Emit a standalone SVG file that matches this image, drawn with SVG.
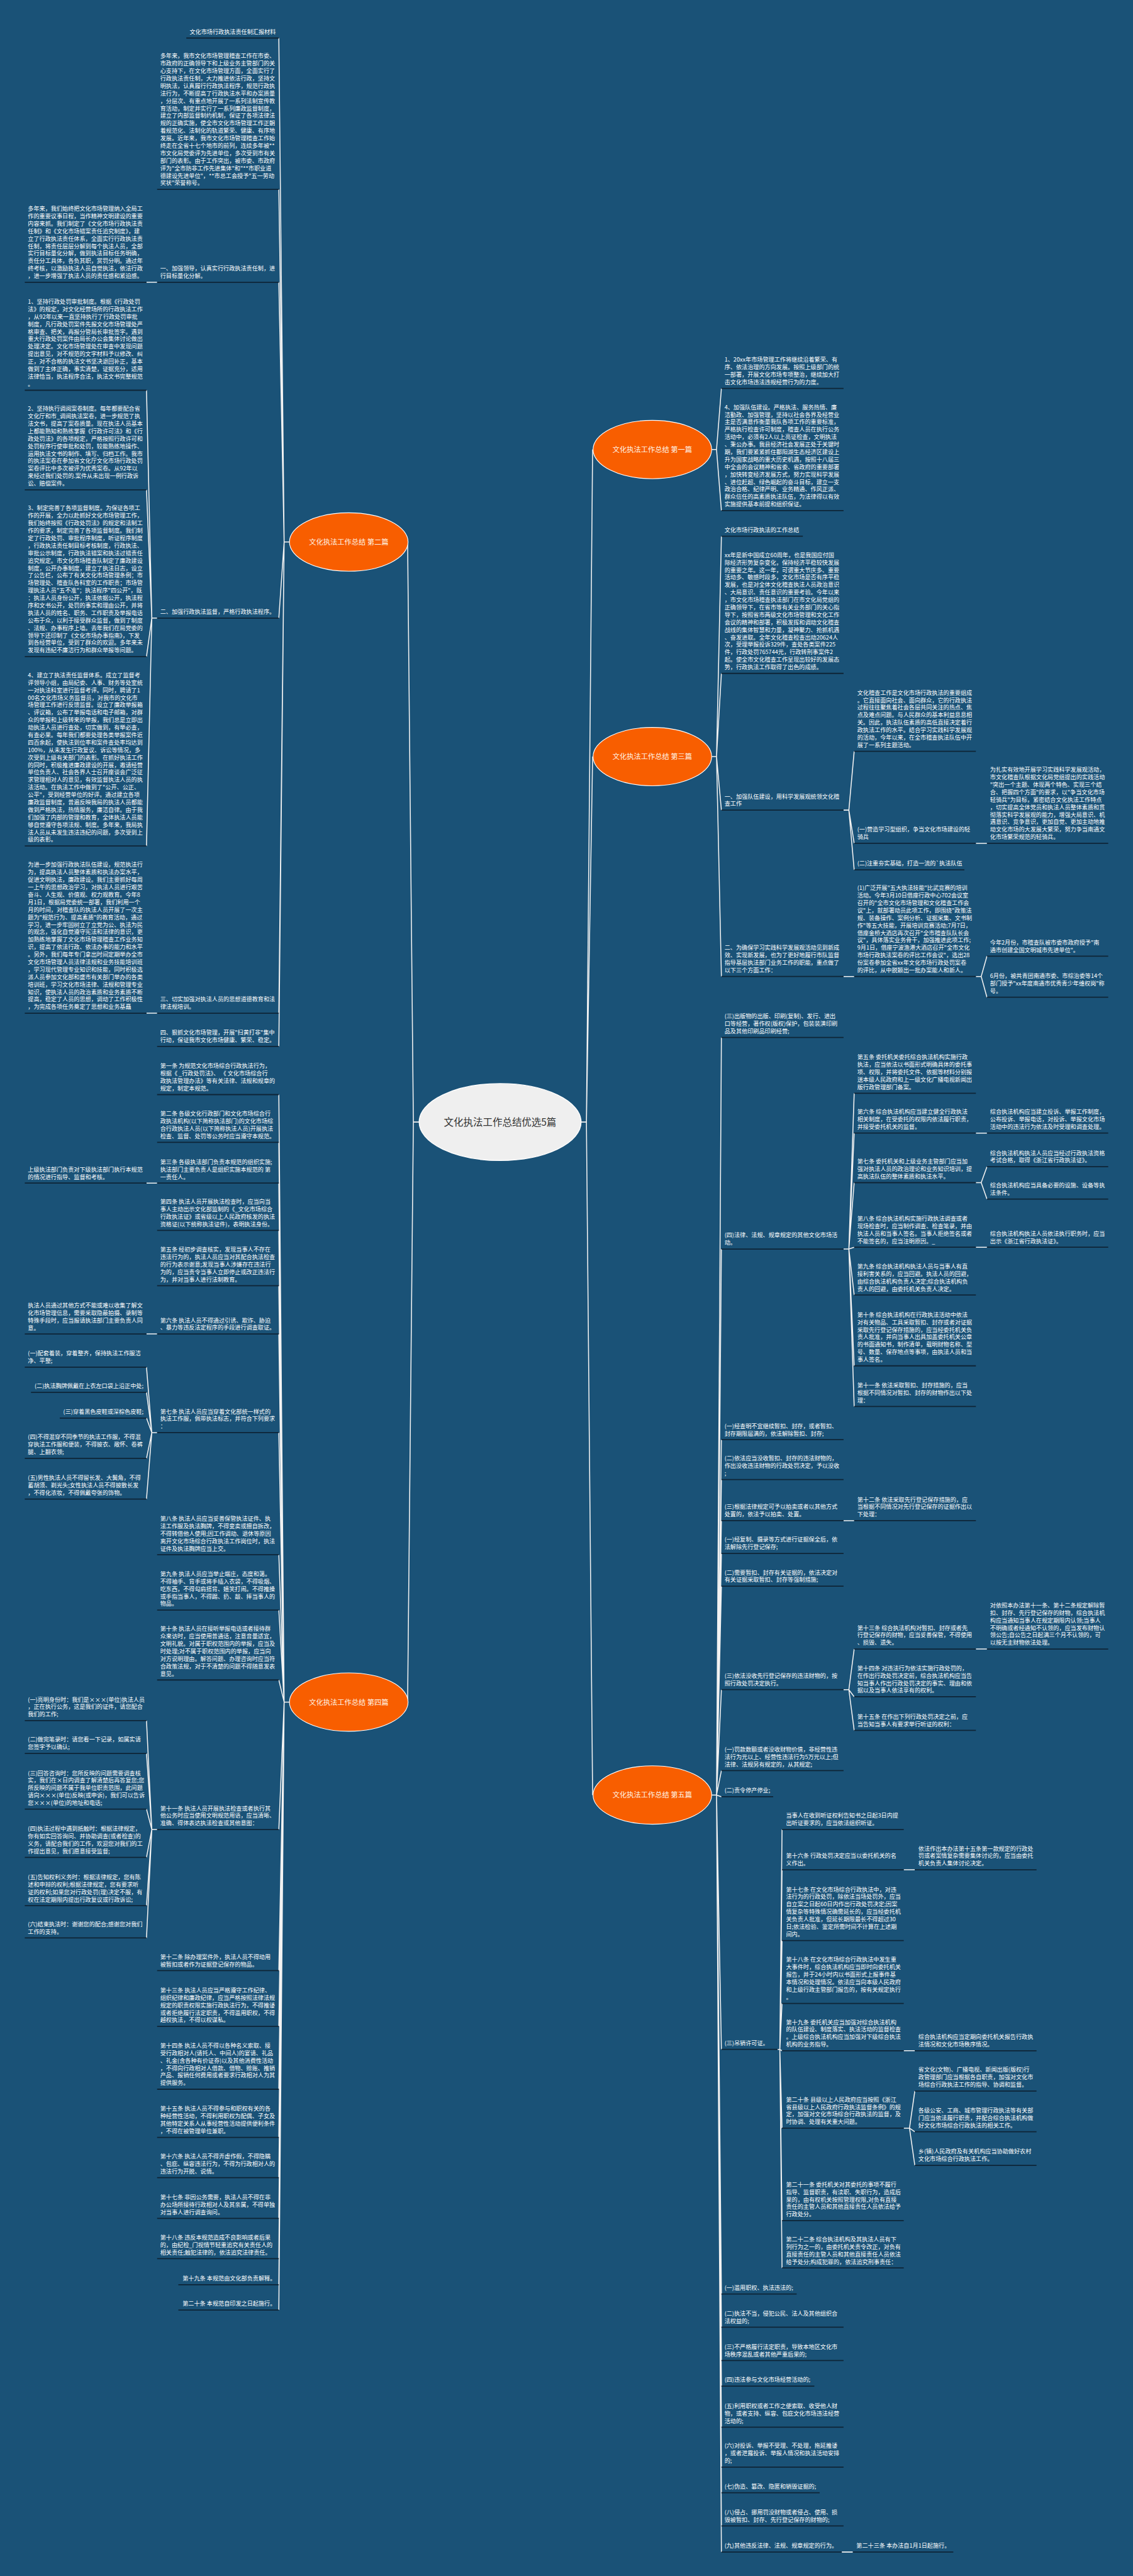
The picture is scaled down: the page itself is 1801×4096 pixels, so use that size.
<svg xmlns="http://www.w3.org/2000/svg" width="1801" height="4096" viewBox="0 0 1801 4096">
<style>
.t{font-family:"Noto Sans CJK SC","Noto Sans",sans-serif;font-size:13px;fill:#ffffff}
.e{text-anchor:end}
.u{stroke:#0e2436;stroke-width:2.5}
.c{fill:none;stroke:#f2f2f2;stroke-width:2.2;stroke-linejoin:round}
.bo{fill:#f85e00;stroke:#ffffff;stroke-width:1.6}
.bt{font-family:"Noto Sans CJK SC","Noto Sans",sans-serif;font-size:16px;fill:#fff6ea;text-anchor:middle}
.ro{fill:#efefef;stroke:#ffffff;stroke-width:2}
.rt{font-family:"Noto Sans CJK SC","Noto Sans",sans-serif;font-size:22px;fill:#333333;text-anchor:middle}
</style>
<rect x="0" y="0" width="1801" height="4096" fill="#1a5277"/>
<g transform="scale(0.703516)">
<g id="connectors" class="c">
<path d="M1312 2536H1325L1339 1016M1312 2536H1325L1339 1710M1312 2536H1325L1339 4057M947 2536H934L921 1225M947 2536H934L921 3847"/>
<path d="M1608 1016H1619L1630 878M1608 1016H1619L1630 1154"/>
<path d="M1608 1710H1619L1630 1212M1608 1710H1619L1630 1522M1608 1710H1619L1630 1831M1608 1710H1619L1630 2207"/>
<path d="M1608 4057H1619L1630 2345M1619 4057L1630 2823M1619 4057L1630 3254M1619 4057L1630 3344M1619 4057L1630 3437M1619 4057L1630 3511M1619 4057L1630 3585M1619 4057L1630 3819M1619 4057L1630 4002M1619 4057L1630 4061M1619 4057L1630 4632M1619 4057L1630 5185M1619 4057L1630 5260M1619 4057L1630 5335M1619 4057L1630 5393M1619 4057L1630 5486M1619 4057L1630 5576M1619 4057L1630 5634M1619 4057L1630 5709M1619 4057L1630 5768"/>
<path d="M654 1225H642L630 86M642 1225L630 428M642 1225L630 638M642 1225L630 1397M642 1225L630 2290M642 1225L630 2365"/>
<path d="M654 3847H642L630 2474M642 3847L630 2582M642 3847L630 2674M642 3847L630 2781M642 3847L630 2906M642 3847L630 3015M642 3847L630 3238M642 3847L630 3514M642 3847L630 3639M642 3847L630 3797M642 3847L630 4135M642 3847L630 4454M642 3847L630 4580M642 3847L630 4722M642 3847L630 4831M642 3847L630 4922M642 3847L630 5014M642 3847L630 5105M642 3847L630 5164M642 3847L630 5221"/>
<path d="M355 638H331M355 2290H331M355 2674H331M355 3015H331"/>
<path d="M355 1397H343L331 882M343 1397L331 1107M343 1397L331 1484M343 1397L331 1912"/>
<path d="M355 3238H343L331 3090M343 3238L331 3147M343 3238L331 3205M343 3238L331 3296M343 3238L331 3388"/>
<path d="M355 4135H343L331 3889M343 4135L331 3963M343 4135L331 4089M343 4135L331 4198M343 4135L331 4307M343 4135L331 4380"/>
<path d="M1906 1831H1918L1930 1698M1918 1831L1930 1906M1918 1831L1930 1966M2205 1906H2230M1906 2207H1930M2205 2207H2217L2230 2161M2217 2207L2230 2254"/>
<path d="M1906 2823H1918L1930 2471M1918 2823L1930 2561M1918 2823L1930 2673M1918 2823L1930 2819M1918 2823L1930 2927M1918 2823L1930 3087M1918 2823L1930 3179M2205 2561H2230M2205 2673H2217L2230 2637M2217 2673L2230 2710M2205 2819H2230"/>
<path d="M1906 3437H1930M1906 3819H1918L1930 3727M1918 3819L1930 3835M1918 3819L1930 3911M2205 3727H2230"/>
<path d="M1757 4632H1762L1767 4135M1762 4632L1767 4226M1762 4632L1767 4386M1762 4632L1767 4528M1762 4632L1767 4635M1762 4632L1767 4810M1762 4632L1767 5019M1762 4632L1767 5126M2042 4226H2067M2042 4635H2067M2042 4810H2055L2067 4726M2055 4810L2067 4818M2055 4810L2067 4894M1902 5768H1927"/>
</g>

<g id="root"><ellipse class="ro" cx="1130" cy="2536" rx="183" ry="87"/><text class="rt" x="1130" y="2544">文化执法工作总结优选5篇</text></g>
<g id="b1"><ellipse class="bo" cx="1474" cy="1016" rx="134" ry="66"/><text class="bt" x="1474" y="1022">文化执法工作总结 第一篇</text></g>
<g id="b3"><ellipse class="bo" cx="1474" cy="1710" rx="134" ry="66"/><text class="bt" x="1474" y="1716">文化执法工作总结 第三篇</text></g>
<g id="b5"><ellipse class="bo" cx="1474" cy="4057" rx="134" ry="66"/><text class="bt" x="1474" y="4063">文化执法工作总结 第五篇</text></g>
<g id="b2"><ellipse class="bo" cx="788" cy="1225" rx="134" ry="66"/><text class="bt" x="788" y="1231">文化执法工作总结 第二篇</text></g>
<g id="b4"><ellipse class="bo" cx="788" cy="3847" rx="134" ry="66"/><text class="bt" x="788" y="3853">文化执法工作总结 第四篇</text></g>

<g id="L1"><text class="t e" x="623" y="76.5">文化市场行政执法责任制汇报材料</text><line class="u" x1="421" y1="86" x2="630" y2="86"/></g>
<g id="L2"><text class="t" x="362" y="131.2"><tspan x="362">多年来，我市文化市场管理稽查工作在市委、</tspan><tspan x="362" dy="16.9">市政府的正确领导下和上级业务主管部门的关</tspan><tspan x="362" dy="16.9">心支持下，在文化市场管理方面，全面实行了</tspan><tspan x="362" dy="16.9">行政执法责任制，大力推进依法行政，坚持文</tspan><tspan x="362" dy="16.9">明执法，认真履行行政执法程序，规范行政执</tspan><tspan x="362" dy="16.9">法行为，不断提高了行政执法水平和办案质量</tspan><tspan x="362" dy="16.9">，分层次、有重点地开展了一系列法制宣传教</tspan><tspan x="362" dy="16.9">育活动，制定并实行了一系列廉政监督制度，</tspan><tspan x="362" dy="16.9">建立了内部监督制约机制，保证了各项法律法</tspan><tspan x="362" dy="16.9">规的正确实施，使全市文化市场管理工作正朝</tspan><tspan x="362" dy="16.9">着规范化、法制化的轨道繁荣、健康、有序地</tspan><tspan x="362" dy="16.9">发展。近年来，我市文化市场管理稽查工作始</tspan><tspan x="362" dy="16.9">终走在全省十七个地市的前列，连续多年被**</tspan><tspan x="362" dy="16.9">市文化局党委评为先进单位，多次受到市有关</tspan><tspan x="362" dy="16.9">部门的表彰。由于工作突出，被市委、市政府</tspan><tspan x="362" dy="16.9">评为"全市防非工作先进集体"和"**市职业道</tspan><tspan x="362" dy="16.9">德建设先进单位"，**市总工会授予"五一劳动</tspan><tspan x="362" dy="16.9">奖状"荣誉称号。</tspan></text><line class="u" x1="355" y1="428" x2="630" y2="428"/></g>
<g id="L3"><text class="t" x="362" y="611.6"><tspan x="362">一、加强领导，认真实行行政执法责任制，进</tspan><tspan x="362" dy="16.9">行目标量化分解。</tspan></text><line class="u" x1="355" y1="638" x2="630" y2="638"/></g>
<g id="L3a"><text class="t" x="63" y="476.4"><tspan x="63">多年来，我们始终把文化市场管理纳入全局工</tspan><tspan x="63" dy="16.9">作的重要议事日程，当作精神文明建设的重要</tspan><tspan x="63" dy="16.9">内容来抓。我们制定了《文化市场行政执法责</tspan><tspan x="63" dy="16.9">任制》和《文化市场错案责任追究制度》，建</tspan><tspan x="63" dy="16.9">立了行政执法责任体系，全面实行行政执法责</tspan><tspan x="63" dy="16.9">任制，将责任层层分解到每个执法人员，全部</tspan><tspan x="63" dy="16.9">实行目标量化分解，做到执法目标任务明确，</tspan><tspan x="63" dy="16.9">责任分工具体，各负其职，赏罚分明。通过年</tspan><tspan x="63" dy="16.9">终考核，以激励执法人员自觉执法，依法行政</tspan><tspan x="63" dy="16.9">，进一步增强了执法人员的责任感和紧迫感。</tspan></text><line class="u" x1="56" y1="638" x2="331" y2="638"/></g>
<g id="L4"><text class="t" x="362" y="1387.5">二、加强行政执法监督，严格行政执法程序。</text><line class="u" x1="355" y1="1397" x2="630" y2="1397"/></g>
<g id="L4a"><text class="t" x="63" y="686.6"><tspan x="63">1、坚持行政处罚审批制度。根据《行政处罚</tspan><tspan x="63" dy="16.9">法》的规定，对文化经营场所的行政执法工作</tspan><tspan x="63" dy="16.9">，从92年以来一直坚持执行了行政处罚审批</tspan><tspan x="63" dy="16.9">制度，凡行政处罚案件先报文化市场管理处严</tspan><tspan x="63" dy="16.9">格审查、把关，再报分管局长审批签字。遇到</tspan><tspan x="63" dy="16.9">重大行政处罚案件由局长办公会集体讨论做出</tspan><tspan x="63" dy="16.9">处理决定。文化市场管理处在审查中发现问题</tspan><tspan x="63" dy="16.9">提出意见，对不规范的文字材料予以修改、纠</tspan><tspan x="63" dy="16.9">正，对不合格的执法文书坚决退回补正，基本</tspan><tspan x="63" dy="16.9">做到了主体正确，事实清楚，证据充分，适用</tspan><tspan x="63" dy="16.9">法律恰当，执法程序合法，执法文书完整规范</tspan><tspan x="63" dy="16.9">。</tspan></text><line class="u" x1="56" y1="882" x2="331" y2="882"/></g>
<g id="L4b"><text class="t" x="63" y="928.5"><tspan x="63">2、坚持执行调阅案卷制度。每年都要配合省</tspan><tspan x="63" dy="16.9">文化厅和市_调阅执法案卷，进一步规范了执</tspan><tspan x="63" dy="16.9">法文书，提高了案卷质量。现在执法人员基本</tspan><tspan x="63" dy="16.9">上都能熟知和熟练掌握《行政许可法》和《行</tspan><tspan x="63" dy="16.9">政处罚法》的各项规定，严格按照行政许可和</tspan><tspan x="63" dy="16.9">处罚程序行使审批和处罚，较能熟练地操作、</tspan><tspan x="63" dy="16.9">运用执法文书的制作、填写、归档工作。我市</tspan><tspan x="63" dy="16.9">的执法案卷在参加省文化厅文化市场行政处罚</tspan><tspan x="63" dy="16.9">案卷评比中多次被评为优秀案卷。从92年以</tspan><tspan x="63" dy="16.9">来经过我们处罚的.案件从未出现一例行政诉</tspan><tspan x="63" dy="16.9">讼、赔偿案件。</tspan></text><line class="u" x1="56" y1="1107" x2="331" y2="1107"/></g>
<g id="L4c"><text class="t" x="63" y="1153.4"><tspan x="63">3、制定完善了各项监督制度。为保证各项工</tspan><tspan x="63" dy="16.9">作的开展，全力以赴抓好文化市场管理工作，</tspan><tspan x="63" dy="16.9">我们始终按照《行政处罚法》的规定和法制工</tspan><tspan x="63" dy="16.9">作的要求，制定完善了各项监督制度。我们制</tspan><tspan x="63" dy="16.9">定了行政处罚、审批程序制度，听证程序制度</tspan><tspan x="63" dy="16.9">，行政执法责任制目标考核制度，行政执法、</tspan><tspan x="63" dy="16.9">审批公示制度，行政执法错案和执法过错责任</tspan><tspan x="63" dy="16.9">追究规定。市文化市场稽查队制定了廉政建设</tspan><tspan x="63" dy="16.9">制度，公开办事制度，建立了执法日志，设立</tspan><tspan x="63" dy="16.9">了公告栏，公布了有关文化市场管理条例；市</tspan><tspan x="63" dy="16.9">场管理处、稽查队各科室的工作职责；市场管</tspan><tspan x="63" dy="16.9">理执法人员"五不准"；执法程序"四公开"，既</tspan><tspan x="63" dy="16.9">：执法人员身份公开，执法依据公开，执法程</tspan><tspan x="63" dy="16.9">序和文书公开，处罚的事实和理由公开，并将</tspan><tspan x="63" dy="16.9">执法人员的姓名、职务、工作职责及举报电话</tspan><tspan x="63" dy="16.9">公布于众，以利于接受群众监督，做到了制度</tspan><tspan x="63" dy="16.9">、法规、办事程序上墙。去年我们在局党委的</tspan><tspan x="63" dy="16.9">领导下还印制了《文化市场办事指南》，下发</tspan><tspan x="63" dy="16.9">到各经营单位，受到了群众的欢迎。多年来未</tspan><tspan x="63" dy="16.9">发现有违纪不廉洁行为和群众举报等问题。</tspan></text><line class="u" x1="56" y1="1484" x2="331" y2="1484"/></g>
<g id="L4d"><text class="t" x="63" y="1530.7"><tspan x="63">4、建立了执法责任监督体系。成立了监督考</tspan><tspan x="63" dy="16.9">评领导小组，由局纪委、人事、财务等处室统</tspan><tspan x="63" dy="16.9">一对执法科室进行监督考评。同时，聘请了1</tspan><tspan x="63" dy="16.9">00名文化市场义务监督员，对我市的文化市</tspan><tspan x="63" dy="16.9">场管理工作进行反馈监督。设立了廉政举报箱</tspan><tspan x="63" dy="16.9">、评议箱，公布了举报电话和电子邮箱，对群</tspan><tspan x="63" dy="16.9">众的举报和上级转来的举报，我们总是立即出</tspan><tspan x="63" dy="16.9">动执法人员进行查处，切实做到，有举必查，</tspan><tspan x="63" dy="16.9">有查必果。每年我们都要处理各类举报案件近</tspan><tspan x="63" dy="16.9">四百余起，使执法到位率和案件查处率均达到</tspan><tspan x="63" dy="16.9">100%，从未发生行政复议、诉讼等情况，多</tspan><tspan x="63" dy="16.9">次受到上级有关部门的表彰。在抓好执法工作</tspan><tspan x="63" dy="16.9">的同时，积极推进廉政建设的开展，邀请经营</tspan><tspan x="63" dy="16.9">单位负责人、社会各界人士召开座谈会广泛征</tspan><tspan x="63" dy="16.9">求管理相对人的意见，有效监督执法人员的执</tspan><tspan x="63" dy="16.9">法活动。在执法工作中做到了"公开、公正、</tspan><tspan x="63" dy="16.9">公平"，受到经营单位的好评。通过建立各项</tspan><tspan x="63" dy="16.9">廉政监督制度，普遍反映我局的执法人员都能</tspan><tspan x="63" dy="16.9">做到严格执法，热情服务，廉洁自律。由于我</tspan><tspan x="63" dy="16.9">们加强了内部的管理和教育，全体执法人员能</tspan><tspan x="63" dy="16.9">够自觉遵守各项法规、制度。多年来，我局执</tspan><tspan x="63" dy="16.9">法人员从未发生违法违纪的问题，多次受到上</tspan><tspan x="63" dy="16.9">级的表彰。</tspan></text><line class="u" x1="56" y1="1912" x2="331" y2="1912"/></g>
<g id="L5"><text class="t" x="362" y="2263.6"><tspan x="362">三、切实加强对执法人员的思想道德教育和法</tspan><tspan x="362" dy="16.9">律法规培训。</tspan></text><line class="u" x1="355" y1="2290" x2="630" y2="2290"/></g>
<g id="L5a"><text class="t" x="63" y="1959.4"><tspan x="63">为进一步加强行政执法队伍建设，规范执法行</tspan><tspan x="63" dy="16.9">为，提高执法人员整体素质和执法办案水平，</tspan><tspan x="63" dy="16.9">促进文明执法，廉政建设。我们主要抓好每周</tspan><tspan x="63" dy="16.9">一上午的思想政治学习，对执法人员进行艰苦</tspan><tspan x="63" dy="16.9">奋斗、人生观、价值观、权力观教育。今年8</tspan><tspan x="63" dy="16.9">月1日，根据局党委统一部署，我们利用一个</tspan><tspan x="63" dy="16.9">月的时间，对稽查队的执法人员开展了一次主</tspan><tspan x="63" dy="16.9">题为"规范行为、提高素质"的教育活动，通过</tspan><tspan x="63" dy="16.9">学习，进一步牢固树立了立党为公、执法为民</tspan><tspan x="63" dy="16.9">的观念，强化自觉遵守宪法和法律的意识，更</tspan><tspan x="63" dy="16.9">加熟练地掌握了文化市场管理稽查工作业务知</tspan><tspan x="63" dy="16.9">识，提高了依法行政、依法办事的能力和水平</tspan><tspan x="63" dy="16.9">。另外，我们每年专门拿出时间定期举办全市</tspan><tspan x="63" dy="16.9">文化市场管理人员法律法规和业务技能培训班</tspan><tspan x="63" dy="16.9">，学习现代管理专业知识和技能，同时积极选</tspan><tspan x="63" dy="16.9">派人员参加文化部和盛市有关部门举办的各类</tspan><tspan x="63" dy="16.9">培训班，学习文化市场法律、法规和管理专业</tspan><tspan x="63" dy="16.9">知识，使执法人员的政治素质和业务素质不断</tspan><tspan x="63" dy="16.9">提高，稳定了人员的思想，调动了工作积极性</tspan><tspan x="63" dy="16.9">，为完成各项任务奠定了思想和业务基矗</tspan></text><line class="u" x1="56" y1="2290" x2="331" y2="2290"/></g>
<g id="L6"><text class="t" x="362" y="2338.6"><tspan x="362">四、狠抓文化市场管理，开展"扫黄打非"集中</tspan><tspan x="362" dy="16.9">行动，保证我市文化市场健康、繁荣、稳定。</tspan></text><line class="u" x1="355" y1="2365" x2="630" y2="2365"/></g>

<g id="M1"><text class="t" x="362" y="2414"><tspan x="362">第一条 为规范文化市场综合行政执法行为，</tspan><tspan x="362" dy="16.9">根据《 _行政处罚法》、 《 文化市场综合行</tspan><tspan x="362" dy="16.9">政执法管理办法》等有关法律、法规和规章的</tspan><tspan x="362" dy="16.9">规定，制定本规范。</tspan></text><line class="u" x1="355" y1="2474" x2="630" y2="2474"/></g>
<g id="M2"><text class="t" x="362" y="2522"><tspan x="362">第二条 各级文化行政部门和文化市场综合行</tspan><tspan x="362" dy="16.9">政执法机构(以下简称执法部门)的文化市场综</tspan><tspan x="362" dy="16.9">合行政执法人员(以下简称执法人员)开展执法</tspan><tspan x="362" dy="16.9">检查、监督、处罚等公务时应当遵守本规范。</tspan></text><line class="u" x1="355" y1="2582" x2="630" y2="2582"/></g>
<g id="M3"><text class="t" x="362" y="2630.7"><tspan x="362">第三条 各级执法部门负责本规范的组织实施;</tspan><tspan x="362" dy="16.9">执法部门主要负责人是组织实施本规范的 第</tspan><tspan x="362" dy="16.9">一责任人。</tspan></text><line class="u" x1="355" y1="2674" x2="630" y2="2674"/></g>
<g id="M3a"><text class="t" x="63" y="2647.6"><tspan x="63">上级执法部门负责对下级执法部门执行本规范</tspan><tspan x="63" dy="16.9">的情况进行指导、监督和考核。</tspan></text><line class="u" x1="56" y1="2674" x2="331" y2="2674"/></g>
<g id="M4"><text class="t" x="362" y="2721"><tspan x="362">第四条 执法人员开展执法检查时，应当向当</tspan><tspan x="362" dy="16.9">事人主动出示文化部监制的《_文化市场综合</tspan><tspan x="362" dy="16.9">行政执法证》或省级以上人民政府核发的执法</tspan><tspan x="362" dy="16.9">资格证(以下统称执法证件)，表明执法身份。</tspan></text><line class="u" x1="355" y1="2781" x2="630" y2="2781"/></g>
<g id="M5"><text class="t" x="362" y="2829"><tspan x="362">第五条 经初步调查核实，发现当事人不存在</tspan><tspan x="362" dy="16.9">违法行为的，执法人员应当对其配合执法检查</tspan><tspan x="362" dy="16.9">的行为表示谢意;发现当事人涉嫌存在违法行</tspan><tspan x="362" dy="16.9">为的，应当责令当事人立即停止或改正违法行</tspan><tspan x="362" dy="16.9">为，并对当事人进行法制教育。</tspan></text><line class="u" x1="355" y1="2906" x2="630" y2="2906"/></g>
<g id="M6"><text class="t" x="362" y="2988.6"><tspan x="362">第六条 执法人员不得通过引诱、欺诈、胁迫</tspan><tspan x="362" dy="16.9">、暴力等违反法定程序的手段进行调查取证。</tspan></text><line class="u" x1="355" y1="3015" x2="630" y2="3015"/></g>
<g id="M6a"><text class="t" x="63" y="2955"><tspan x="63">执法人员通过其他方式不能或难以收集了解文</tspan><tspan x="63" dy="16.9">化市场管理信息，需要采取隐蔽拍摄、录制等</tspan><tspan x="63" dy="16.9">特殊手段时，应当报请执法部门主要负责人同</tspan><tspan x="63" dy="16.9">意。</tspan></text><line class="u" x1="56" y1="3015" x2="331" y2="3015"/></g>
<g id="M7"><text class="t" x="362" y="3194.7"><tspan x="362">第七条 执法人员应当穿着文化部统一样式的</tspan><tspan x="362" dy="16.9">执法工作服，佩带执法标志，并符合下列要求</tspan><tspan x="362" dy="16.9">：</tspan></text><line class="u" x1="355" y1="3238" x2="630" y2="3238"/></g>
<g id="M7a"><text class="t" x="63" y="3063.6"><tspan x="63">(一)配套着装，穿着整齐，保持执法工作服洁</tspan><tspan x="63" dy="16.9">净、平整;</tspan></text><line class="u" x1="56" y1="3090" x2="331" y2="3090"/></g>
<g id="M7b"><text class="t e" x="324" y="3137.5">(二)执法胸牌佩戴在上衣左口袋上沿正中处;</text><line class="u" x1="70" y1="3147" x2="331" y2="3147"/></g>
<g id="M7c"><text class="t e" x="324" y="3195.5">(三)穿着黑色皮鞋或深棕色皮鞋;</text><line class="u" x1="135" y1="3205" x2="331" y2="3205"/></g>
<g id="M7d"><text class="t" x="63" y="3252.7"><tspan x="63">(四)不得混穿不同季节的执法工作服，不得混</tspan><tspan x="63" dy="16.9">穿执法工作服和便装，不得披衣、敞怀、卷裤</tspan><tspan x="63" dy="16.9">腿、上翻衣领;</tspan></text><line class="u" x1="56" y1="3296" x2="331" y2="3296"/></g>
<g id="M7e"><text class="t" x="63" y="3344.7"><tspan x="63">(五)男性执法人员不得留长发、大鬓角，不得</tspan><tspan x="63" dy="16.9">蓄胡须、剃光头;女性执法人员不得披散长发</tspan><tspan x="63" dy="16.9">，不得化浓妆，不得佩戴夸张的饰物。</tspan></text><line class="u" x1="56" y1="3388" x2="331" y2="3388"/></g>
<g id="M8"><text class="t" x="362" y="3437"><tspan x="362">第八条 执法人员应当妥善保管执法证件、执</tspan><tspan x="362" dy="16.9">法工作服及执法胸牌，不得变卖或擅自拆改，</tspan><tspan x="362" dy="16.9">不得转借他人使用;因工作调动、退休等原因</tspan><tspan x="362" dy="16.9">离开文化市场综合行政执法工作岗位时，执法</tspan><tspan x="362" dy="16.9">证件及执法胸牌应当上交。</tspan></text><line class="u" x1="355" y1="3514" x2="630" y2="3514"/></g>
<g id="M9"><text class="t" x="362" y="3562"><tspan x="362">第九条 执法人员应当举止端庄，态度和蔼。</tspan><tspan x="362" dy="16.9">不得袖手、背手或将手插入衣袋，不得吸烟、</tspan><tspan x="362" dy="16.9">吃东西，不得勾肩搭背、嬉笑打闹。不得推搡</tspan><tspan x="362" dy="16.9">或手指当事人，不得踢、扔、敲、摔当事人的</tspan><tspan x="362" dy="16.9">物品。</tspan></text><line class="u" x1="355" y1="3639" x2="630" y2="3639"/></g>
<g id="M10"><text class="t" x="362" y="3686.1"><tspan x="362">第十条 执法人员在接听举报电话或者接待群</tspan><tspan x="362" dy="16.9">众来访时，应当使用普通话，注意音量适宜，</tspan><tspan x="362" dy="16.9">文明礼貌。对属于职权范围内的举报，应当及</tspan><tspan x="362" dy="16.9">时处理;对不属于职权范围内的举报，应当向</tspan><tspan x="362" dy="16.9">对方说明理由。解答问题、办理咨询时应当符</tspan><tspan x="362" dy="16.9">合政策法规，对于不清楚的问题不得随意发表</tspan><tspan x="362" dy="16.9">意见。</tspan></text><line class="u" x1="355" y1="3797" x2="630" y2="3797"/></g>
<g id="M11"><text class="t" x="362" y="4091.7"><tspan x="362">第十一条 执法人员开展执法检查或者执行其</tspan><tspan x="362" dy="16.9">他公务时应当使用文明规范用语，应当清晰、</tspan><tspan x="362" dy="16.9">准确、得体表达执法检查或其他意图：</tspan></text><line class="u" x1="355" y1="4135" x2="630" y2="4135"/></g>
<g id="M11a"><text class="t" x="63" y="3845.7"><tspan x="63">(一)亮明身份时：我们是×××(单位)执法人员</tspan><tspan x="63" dy="16.9">，正在执行公务，这是我们的证件，请您配合</tspan><tspan x="63" dy="16.9">我们的工作;</tspan></text><line class="u" x1="56" y1="3889" x2="331" y2="3889"/></g>
<g id="M11b"><text class="t" x="63" y="3936.6"><tspan x="63">(二)做完笔录时：请您看一下记录，如属实请</tspan><tspan x="63" dy="16.9">您签字予以确认;</tspan></text><line class="u" x1="56" y1="3963" x2="331" y2="3963"/></g>
<g id="M11c"><text class="t" x="63" y="4012"><tspan x="63">(三)回答咨询时：您所反映的问题需要调查核</tspan><tspan x="63" dy="16.9">实，我们在×日内调查了解清楚后再答复您;您</tspan><tspan x="63" dy="16.9">所反映的问题不属于我单位职责范围，此问题</tspan><tspan x="63" dy="16.9">请向×××(单位)反映(或申诉)，我们可以告诉</tspan><tspan x="63" dy="16.9">您×××(单位)的地址和电话;</tspan></text><line class="u" x1="56" y1="4089" x2="331" y2="4089"/></g>
<g id="M11d"><text class="t" x="63" y="4138"><tspan x="63">(四)执法过程中遇到抵触时：根据法律规定，</tspan><tspan x="63" dy="16.9">你有如实回答询问、并协助调查(或者检查)的</tspan><tspan x="63" dy="16.9">义务，请配合我们的工作，欢迎您对我们的工</tspan><tspan x="63" dy="16.9">作提出意见，我们愿意接受监督;</tspan></text><line class="u" x1="56" y1="4198" x2="331" y2="4198"/></g>
<g id="M11e"><text class="t" x="63" y="4247"><tspan x="63">(五)告知权利义务时：根据法律规定，您有陈</tspan><tspan x="63" dy="16.9">述和申辩的权利;根据法律规定，您有要求听</tspan><tspan x="63" dy="16.9">证的权利;如果您对行政处罚(理)决定不服，有</tspan><tspan x="63" dy="16.9">权在法定期限内提出行政复议或行政诉讼;</tspan></text><line class="u" x1="56" y1="4307" x2="331" y2="4307"/></g>
<g id="M11f"><text class="t" x="63" y="4353.6"><tspan x="63">(六)结束执法时：谢谢您的配合;感谢您对我们</tspan><tspan x="63" dy="16.9">工作的支持。</tspan></text><line class="u" x1="56" y1="4380" x2="331" y2="4380"/></g>
<g id="M12"><text class="t" x="362" y="4427.6"><tspan x="362">第十二条 除办理案件外，执法人员不得动用</tspan><tspan x="362" dy="16.9">被暂扣或者作为证据登记保存的物品。</tspan></text><line class="u" x1="355" y1="4454" x2="630" y2="4454"/></g>
<g id="M13"><text class="t" x="362" y="4503"><tspan x="362">第十三条 执法人员应当严格遵守工作纪律、</tspan><tspan x="362" dy="16.9">组织纪律和廉政纪律，应当严格按照法律法规</tspan><tspan x="362" dy="16.9">规定的职责权限实施行政执法行为，不得推诿</tspan><tspan x="362" dy="16.9">或者拒绝履行法定职责，不得滥用职权，不得</tspan><tspan x="362" dy="16.9">越权执法，不得以权谋私。</tspan></text><line class="u" x1="355" y1="4580" x2="630" y2="4580"/></g>
<g id="M14"><text class="t" x="362" y="4628"><tspan x="362">第十四条 执法人员不得以各种名义索取、接</tspan><tspan x="362" dy="16.9">受行政相对人(请托人、中间人)的宴请、礼品</tspan><tspan x="362" dy="16.9">、礼金(含各种有价证券)以及其他消费性活动</tspan><tspan x="362" dy="16.9">，不得向行政相对人借款、借物、赊账、推销</tspan><tspan x="362" dy="16.9">产品、报销任何费用或者要求行政相对人为其</tspan><tspan x="362" dy="16.9">提供服务。</tspan></text><line class="u" x1="355" y1="4722" x2="630" y2="4722"/></g>
<g id="M15"><text class="t" x="362" y="4771"><tspan x="362">第十五条 执法人员不得参与和职权有关的各</tspan><tspan x="362" dy="16.9">种经营性活动，不得利用职权为配偶、子女及</tspan><tspan x="362" dy="16.9">其他特定关系人从事经营性活动提供便利条件</tspan><tspan x="362" dy="16.9">，不得在被管理单位兼职。</tspan></text><line class="u" x1="355" y1="4831" x2="630" y2="4831"/></g>
<g id="M16"><text class="t" x="362" y="4878.7"><tspan x="362">第十六条 执法人员不得弄虚作假，不得隐瞒</tspan><tspan x="362" dy="16.9">、包庇、纵容违法行为，不得为行政相对人的</tspan><tspan x="362" dy="16.9">违法行为开脱、说情。</tspan></text><line class="u" x1="355" y1="4922" x2="630" y2="4922"/></g>
<g id="M17"><text class="t" x="362" y="4970.7"><tspan x="362">第十七条 非因公务需要，执法人员不得在非</tspan><tspan x="362" dy="16.9">办公场所接待行政相对人及其亲属，不得单独</tspan><tspan x="362" dy="16.9">对当事人进行调查询问。</tspan></text><line class="u" x1="355" y1="5014" x2="630" y2="5014"/></g>
<g id="M18"><text class="t" x="362" y="5061.7"><tspan x="362">第十八条 违反本规范造成不良影响或者后果</tspan><tspan x="362" dy="16.9">的，由纪检_门视情节轻重追究有关责任人的</tspan><tspan x="362" dy="16.9">相关责任;触犯法律的，依法追究法律责任。</tspan></text><line class="u" x1="355" y1="5105" x2="630" y2="5105"/></g>
<g id="M19"><text class="t e" x="623" y="5154.5">第十九条 本规范由文化部负责解释。</text><line class="u" x1="403" y1="5164" x2="630" y2="5164"/></g>
<g id="M20"><text class="t e" x="623" y="5211.5">第二十条 本规范自印发之日起施行。</text><line class="u" x1="403" y1="5221" x2="630" y2="5221"/></g>

<g id="R1"><text class="t" x="1637" y="818"><tspan x="1637">1、20xx年市场管理工作将继续沿着繁荣、有</tspan><tspan x="1637" dy="16.9">序、依法治理的方向发展。按照上级部门的统</tspan><tspan x="1637" dy="16.9">一部署，开展文化市场专项整治，继续加大打</tspan><tspan x="1637" dy="16.9">击文化市场违法违规经营行为的力度。</tspan></text><line class="u" x1="1630" y1="878" x2="1906" y2="878"/></g>
<g id="R2"><text class="t" x="1637" y="924.8"><tspan x="1637">4、加强队伍建设。严格执法、服务热情、廉</tspan><tspan x="1637" dy="16.9">洁勤政、加强管理，坚持以社会各界及经营业</tspan><tspan x="1637" dy="16.9">主是否满意作衡量我队各项工作的重要标准，</tspan><tspan x="1637" dy="16.9">严格执行检查许可制度，稽查人员在执行公务</tspan><tspan x="1637" dy="16.9">活动中，必须有2人以上亮证检查，文明执法</tspan><tspan x="1637" dy="16.9">、秉公办事。我县经济社会发展正处于关键时</tspan><tspan x="1637" dy="16.9">期，我们要紧紧抓住鄱阳湖生态经济区建设上</tspan><tspan x="1637" dy="16.9">升为国家战略的重大历史机遇，按照十八届三</tspan><tspan x="1637" dy="16.9">中全会的会议精神和省委、省政府的重要部署</tspan><tspan x="1637" dy="16.9">，加快转变经济发展方式，努力实现科学发展</tspan><tspan x="1637" dy="16.9">、进位赶超、绿色崛起的奋斗目标，建立一支</tspan><tspan x="1637" dy="16.9">政治合格、纪律严明、业务精通、作风正派、</tspan><tspan x="1637" dy="16.9">群众信任的高素质执法队伍，为法律得以有效</tspan><tspan x="1637" dy="16.9">实施提供基本前提和组织保证。</tspan></text><line class="u" x1="1630" y1="1154" x2="1906" y2="1154"/></g>

<g id="S1"><text class="t" x="1637" y="1202.5">文化市场行政执法的工作总结</text><line class="u" x1="1630" y1="1212" x2="1814" y2="1212"/></g>
<g id="S2"><text class="t" x="1637" y="1259"><tspan x="1637">xx年是新中国成立60周年，也是我国应付国</tspan><tspan x="1637" dy="16.9">际经济形势复杂变化，保持经济平稳较快发展</tspan><tspan x="1637" dy="16.9">的重要之年。这一年，可谓重大节庆多、重要</tspan><tspan x="1637" dy="16.9">活动多、敏感时段多，文化市场是否有序平稳</tspan><tspan x="1637" dy="16.9">发展，也是对全体文化稽查执法人员政治意识</tspan><tspan x="1637" dy="16.9">、大局意识、责任意识的重要考验。今年以来</tspan><tspan x="1637" dy="16.9">，市文化市场稽查执法部门在市文化局党组的</tspan><tspan x="1637" dy="16.9">正确领导下，在省市等有关业务部门的关心指</tspan><tspan x="1637" dy="16.9">导下，按照省市两级文化市场管理和文化工作</tspan><tspan x="1637" dy="16.9">会议的精神和部署，积极发挥和调动文化稽查</tspan><tspan x="1637" dy="16.9">战线的集体智慧和力量，凝神聚力、抢抓机遇</tspan><tspan x="1637" dy="16.9">、奋发进取。全年文化稽查检查出动20624人</tspan><tspan x="1637" dy="16.9">次，受理举报投诉329件，查处各类案件225</tspan><tspan x="1637" dy="16.9">件，行政处罚765744元，行政转刑事案件2</tspan><tspan x="1637" dy="16.9">起。使全市文化稽查工作呈现出较好的发展态</tspan><tspan x="1637" dy="16.9">势，行政执法工作取得了出色的成绩。</tspan></text><line class="u" x1="1630" y1="1522" x2="1906" y2="1522"/></g>
<g id="S3"><text class="t" x="1637" y="1804.6"><tspan x="1637">一、加强队伍建设，用科学发展观统领文化稽</tspan><tspan x="1637" dy="16.9">查工作</tspan></text><line class="u" x1="1630" y1="1831" x2="1906" y2="1831"/></g>
<g id="S3a"><text class="t" x="1937" y="1570.2"><tspan x="1937">文化稽查工作是文化市场行政执法的重要组成</tspan><tspan x="1937" dy="16.9">。它直接面向社会、面向群众，它的行政执法</tspan><tspan x="1937" dy="16.9">过程往往聚焦着社会各层共同关注的热点、焦</tspan><tspan x="1937" dy="16.9">点及难点问题。与人民群众的基本利益息息相</tspan><tspan x="1937" dy="16.9">关。因此，执法队伍素质的高低直接决定着行</tspan><tspan x="1937" dy="16.9">政执法工作的水平。结合学习实践科学发展观</tspan><tspan x="1937" dy="16.9">的活动，今年以来，在全市稽查执法队伍中开</tspan><tspan x="1937" dy="16.9">展了一系列主题活动。</tspan></text><line class="u" x1="1930" y1="1698" x2="2205" y2="1698"/></g>
<g id="S3b"><text class="t" x="1937" y="1879.6"><tspan x="1937">(一)营造学习型组织，争当文化市场建设的轻</tspan><tspan x="1937" dy="16.9">骑兵</tspan></text><line class="u" x1="1930" y1="1906" x2="2205" y2="1906"/></g>
<g id="S3b1"><text class="t" x="2237" y="1744.4"><tspan x="2237">为扎实有效地开展学习实践科学发展观活动，</tspan><tspan x="2237" dy="16.9">市文化稽查队根据文化局党组提出的实践活动</tspan><tspan x="2237" dy="16.9">"突出一个主题、体现两个特色、实现三个结</tspan><tspan x="2237" dy="16.9">合、把握四个方面"的要求，以"争当文化市场</tspan><tspan x="2237" dy="16.9">轻骑兵"为目标，紧密结合文化执法工作特点</tspan><tspan x="2237" dy="16.9">，切实提高全体党员和执法人员整体素质和贯</tspan><tspan x="2237" dy="16.9">彻落实科学发展观的能力，增强大局意识、机</tspan><tspan x="2237" dy="16.9">遇意识、竞争意识，更加自觉、更加主动地推</tspan><tspan x="2237" dy="16.9">动文化市场的大发展大繁荣，努力争当南通文</tspan><tspan x="2237" dy="16.9">化市场繁荣规范的轻骑兵。</tspan></text><line class="u" x1="2230" y1="1906" x2="2504" y2="1906"/></g>
<g id="S3c"><text class="t" x="1937" y="1956.5">(二)注重夯实基础，打造一流的`执法队伍</text><line class="u" x1="1930" y1="1966" x2="2179" y2="1966"/></g>
<g id="S4"><text class="t" x="1637" y="2147"><tspan x="1637">二、为确保学习实践科学发展观活动见到新成</tspan><tspan x="1637" dy="16.9">效、实现新发展，也为了更好地履行市队监督</tspan><tspan x="1637" dy="16.9">指导基层执法部门业务工作的职能，重点做了</tspan><tspan x="1637" dy="16.9">以下三个方面工作：</tspan></text><line class="u" x1="1630" y1="2207" x2="1906" y2="2207"/></g>
<g id="S4a"><text class="t" x="1937" y="2011.6"><tspan x="1937">(1)广泛开展"五大执法技能"比武竞赛的培训</tspan><tspan x="1937" dy="16.9">活动。今年3月10日借座行政中心702会议室</tspan><tspan x="1937" dy="16.9">召开的"全市文化市场管理和文化稽查工作会</tspan><tspan x="1937" dy="16.9">议"上，就部署动员此项工作，即围绕"政策法</tspan><tspan x="1937" dy="16.9">规、装备操作、案例分析、证据采集、文书制</tspan><tspan x="1937" dy="16.9">作"等五大技能，开展培训竞赛活动;7月7日，</tspan><tspan x="1937" dy="16.9">借座金桥大酒店再次召开"全市稽查队队长会</tspan><tspan x="1937" dy="16.9">议"，具体落实业务骨干，加强推进此项工作;</tspan><tspan x="1937" dy="16.9">9月1日，借座宁波渔港大酒店召开"全市文化</tspan><tspan x="1937" dy="16.9">市场行政执法案卷的评比工作会议"，选出28</tspan><tspan x="1937" dy="16.9">份案卷参加全省xx年文化市场行政处罚案卷</tspan><tspan x="1937" dy="16.9">的评比，从中脱颖出一批办案能人和新人。</tspan></text><line class="u" x1="1930" y1="2207" x2="2205" y2="2207"/></g>
<g id="S4a1"><text class="t" x="2237" y="2134.6"><tspan x="2237">今年2月份，市稽查队被市委市政府授予"南</tspan><tspan x="2237" dy="16.9">通市创建全国文明城市先进单位"。</tspan></text><line class="u" x1="2230" y1="2161" x2="2504" y2="2161"/></g>
<g id="S4a2"><text class="t" x="2237" y="2210.7"><tspan x="2237">6月份，被共青团南通市委、市综治委等14个</tspan><tspan x="2237" dy="16.9">部门授予"xx年度南通市优秀青少年维权岗"称</tspan><tspan x="2237" dy="16.9">号。</tspan></text><line class="u" x1="2230" y1="2254" x2="2504" y2="2254"/></g>

<g id="T1"><text class="t" x="1637" y="2301.7"><tspan x="1637">(三)出版物的出版、印刷(复制)、发行、进出</tspan><tspan x="1637" dy="16.9">口等经营，著作权(版权)保护，包装装潢印刷</tspan><tspan x="1637" dy="16.9">品及其他印刷品印刷经营;</tspan></text><line class="u" x1="1630" y1="2345" x2="1906" y2="2345"/></g>
<g id="T2"><text class="t" x="1637" y="2796.6"><tspan x="1637">(四)法律、法规、规章规定的其他文化市场活</tspan><tspan x="1637" dy="16.9">动。</tspan></text><line class="u" x1="1630" y1="2823" x2="1906" y2="2823"/></g>
<g id="T2a"><text class="t" x="1937" y="2394"><tspan x="1937">第五条 委托机关委托综合执法机构实施行政</tspan><tspan x="1937" dy="16.9">执法，应当依法以书面形式明确具体的委托事</tspan><tspan x="1937" dy="16.9">项、权限，并将委托文件、依据等材料分别报</tspan><tspan x="1937" dy="16.9">送本级人民政府和上一级文化广播电视新闻出</tspan><tspan x="1937" dy="16.9">版行政管理部门备案。</tspan></text><line class="u" x1="1930" y1="2471" x2="2205" y2="2471"/></g>
<g id="T2b"><text class="t" x="1937" y="2517.7"><tspan x="1937">第六条 综合执法机构应当建立健全行政执法</tspan><tspan x="1937" dy="16.9">相关制度，在受委托的权限内依法履行职责，</tspan><tspan x="1937" dy="16.9">并接受委托机关的监督。</tspan></text><line class="u" x1="1930" y1="2561" x2="2205" y2="2561"/></g>
<g id="T2b1"><text class="t" x="2237" y="2517.7"><tspan x="2237">综合执法机构应当建立投诉、举报工作制度，</tspan><tspan x="2237" dy="16.9">公布投诉、举报电话，对投诉、举报文化市场</tspan><tspan x="2237" dy="16.9">活动中的违法行为依法及时受理和调查处理。</tspan></text><line class="u" x1="2230" y1="2561" x2="2504" y2="2561"/></g>
<g id="T2c"><text class="t" x="1937" y="2629.7"><tspan x="1937">第七条 委托机关和上级业务主管部门应当加</tspan><tspan x="1937" dy="16.9">强对执法人员的政治理论和业务知识培训，提</tspan><tspan x="1937" dy="16.9">高执法队伍的整体素质和执法水平。</tspan></text><line class="u" x1="1930" y1="2673" x2="2205" y2="2673"/></g>
<g id="T2c1"><text class="t" x="2237" y="2610.6"><tspan x="2237">综合执法机构执法人员应当经过行政执法资格</tspan><tspan x="2237" dy="16.9">考试合格，取得《浙江省行政执法证》。</tspan></text><line class="u" x1="2230" y1="2637" x2="2504" y2="2637"/></g>
<g id="T2c2"><text class="t" x="2237" y="2683.6"><tspan x="2237">综合执法机构应当具备必要的设施、设备等执</tspan><tspan x="2237" dy="16.9">法条件。</tspan></text><line class="u" x1="2230" y1="2710" x2="2504" y2="2710"/></g>
<g id="T2d"><text class="t" x="1937" y="2759"><tspan x="1937">第八条 综合执法机构实施行政执法调查或者</tspan><tspan x="1937" dy="16.9">现场检查时，应当制作调查、检查笔录，并由</tspan><tspan x="1937" dy="16.9">执法人员和当事人签名。当事人拒绝签名或者</tspan><tspan x="1937" dy="16.9">不能签名的，应当注明原因。_</tspan></text><line class="u" x1="1930" y1="2819" x2="2205" y2="2819"/></g>
<g id="T2d1"><text class="t" x="2237" y="2792.6"><tspan x="2237">综合执法机构执法人员依法执行职务时，应当</tspan><tspan x="2237" dy="16.9">出示《浙江省行政执法证》。</tspan></text><line class="u" x1="2230" y1="2819" x2="2504" y2="2819"/></g>
<g id="T2e"><text class="t" x="1937" y="2867"><tspan x="1937">第九条 综合执法机构执法人员与当事人有直</tspan><tspan x="1937" dy="16.9">接利害关系的，应当回避。执法人员的回避，</tspan><tspan x="1937" dy="16.9">由综合执法机构负责人决定;综合执法机构负</tspan><tspan x="1937" dy="16.9">责人的回避，由委托机关负责人决定。</tspan></text><line class="u" x1="1930" y1="2927" x2="2205" y2="2927"/></g>
<g id="T2f"><text class="t" x="1937" y="2976.1"><tspan x="1937">第十条 综合执法机构在行政执法活动中依法</tspan><tspan x="1937" dy="16.9">对有关物品、工具采取暂扣、封存或者对证据</tspan><tspan x="1937" dy="16.9">采取先行登记保存措施的，应当经委托机关负</tspan><tspan x="1937" dy="16.9">责人批准，并向当事人出具加盖委托机关公章</tspan><tspan x="1937" dy="16.9">的书面通知书，制作清单，载明财物名称、型</tspan><tspan x="1937" dy="16.9">号、数量、保存地点等事项，由执法人员和当</tspan><tspan x="1937" dy="16.9">事人签名。</tspan></text><line class="u" x1="1930" y1="3087" x2="2205" y2="3087"/></g>
<g id="T2g"><text class="t" x="1937" y="3135.7"><tspan x="1937">第十一条 依法采取暂扣、封存措施的，应当</tspan><tspan x="1937" dy="16.9">根据不同情况对暂扣、封存的财物作出以下处</tspan><tspan x="1937" dy="16.9">理：</tspan></text><line class="u" x1="1930" y1="3179" x2="2205" y2="3179"/></g>
<g id="T3"><text class="t" x="1637" y="3227.6"><tspan x="1637">(一)经查明不宜继续暂扣、封存，或者暂扣、</tspan><tspan x="1637" dy="16.9">封存期限届满的，依法解除暂扣、封存;</tspan></text><line class="u" x1="1630" y1="3254" x2="1906" y2="3254"/></g>
<g id="T4"><text class="t" x="1637" y="3300.7"><tspan x="1637">(二)依法应当没收暂扣、封存的违法财物的，</tspan><tspan x="1637" dy="16.9">作出没收违法财物的行政处罚决定，予以没收</tspan><tspan x="1637" dy="16.9">;</tspan></text><line class="u" x1="1630" y1="3344" x2="1906" y2="3344"/></g>
<g id="T5"><text class="t" x="1637" y="3410.6"><tspan x="1637">(三)根据法律规定可予以拍卖或者以其他方式</tspan><tspan x="1637" dy="16.9">处置的，依法予以拍卖、处置。</tspan></text><line class="u" x1="1630" y1="3437" x2="1906" y2="3437"/></g>
<g id="T5a"><text class="t" x="1937" y="3393.7"><tspan x="1937">第十二条 依法采取先行登记保存措施的，应</tspan><tspan x="1937" dy="16.9">当根据不同情况对先行登记保存的证据作出以</tspan><tspan x="1937" dy="16.9">下处理：</tspan></text><line class="u" x1="1930" y1="3437" x2="2205" y2="3437"/></g>
<g id="T6"><text class="t" x="1637" y="3484.6"><tspan x="1637">(一)经复制、摄录等方式进行证据保全后，依</tspan><tspan x="1637" dy="16.9">法解除先行登记保存;</tspan></text><line class="u" x1="1630" y1="3511" x2="1906" y2="3511"/></g>
<g id="T7"><text class="t" x="1637" y="3558.6"><tspan x="1637">(二)需要暂扣、封存有关证据的，依法决定对</tspan><tspan x="1637" dy="16.9">有关证据采取暂扣、封存等强制措施;</tspan></text><line class="u" x1="1630" y1="3585" x2="1906" y2="3585"/></g>
<g id="T8"><text class="t" x="1637" y="3792.6"><tspan x="1637">(三)依法没收先行登记保存的违法财物的，按</tspan><tspan x="1637" dy="16.9">照行政处罚决定执行。</tspan></text><line class="u" x1="1630" y1="3819" x2="1906" y2="3819"/></g>
<g id="T8a"><text class="t" x="1937" y="3683.7"><tspan x="1937">第十三条 综合执法机构对暂扣、封存或者先</tspan><tspan x="1937" dy="16.9">行登记保存的财物，应当妥善保管，不得使用</tspan><tspan x="1937" dy="16.9">、损毁、遗失。</tspan></text><line class="u" x1="1930" y1="3727" x2="2205" y2="3727"/></g>
<g id="T8a1"><text class="t" x="2237" y="3633"><tspan x="2237">对依照本办法第十一条、第十二条规定解除暂</tspan><tspan x="2237" dy="16.9">扣、封存、先行登记保存的财物，综合执法机</tspan><tspan x="2237" dy="16.9">构应当通知当事人在规定期限内认领;当事人</tspan><tspan x="2237" dy="16.9">不明确或者经通知不认领的，应当发布财物认</tspan><tspan x="2237" dy="16.9">领公告;自公告之日起满三个月不认领的，可</tspan><tspan x="2237" dy="16.9">以按无主财物依法处理。</tspan></text><line class="u" x1="2230" y1="3727" x2="2504" y2="3727"/></g>
<g id="T8b"><text class="t" x="1937" y="3775"><tspan x="1937">第十四条 对违法行为依法实施行政处罚的，</tspan><tspan x="1937" dy="16.9">在作出行政处罚决定前，综合执法机构应当告</tspan><tspan x="1937" dy="16.9">知当事人作出行政处罚决定的事实、理由和依</tspan><tspan x="1937" dy="16.9">据以及当事人依法享有的权利。</tspan></text><line class="u" x1="1930" y1="3835" x2="2205" y2="3835"/></g>
<g id="T8c"><text class="t" x="1937" y="3884.6"><tspan x="1937">第十五条 在作出下列行政处罚决定之前，应</tspan><tspan x="1937" dy="16.9">当告知当事人有要求举行听证的权利：</tspan></text><line class="u" x1="1930" y1="3911" x2="2205" y2="3911"/></g>
<g id="T9"><text class="t" x="1637" y="3958.7"><tspan x="1637">(一)罚款数额或者没收财物价值，非经营性违</tspan><tspan x="1637" dy="16.9">法行为元以上、经营性违法行为5万元以上;但</tspan><tspan x="1637" dy="16.9">法律、法规另有规定的，从其规定;</tspan></text><line class="u" x1="1630" y1="4002" x2="1906" y2="4002"/></g>
<g id="T10"><text class="t" x="1637" y="4051.5">(二)责令停产停业;</text><line class="u" x1="1630" y1="4061" x2="1747" y2="4061"/></g>
<g id="T11"><text class="t" x="1637" y="4622.5">(三)吊销许可证。</text><line class="u" x1="1630" y1="4632" x2="1757" y2="4632"/></g>
<g id="T11a"><text class="t" x="1776" y="4108.6"><tspan x="1776">当事人在收到听证权利告知书之日起3日内提</tspan><tspan x="1776" dy="16.9">出听证要求的，应当依法组织听证。</tspan></text><line class="u" x1="1767" y1="4135" x2="2042" y2="4135"/></g>
<g id="T11b"><text class="t" x="1776" y="4199.6"><tspan x="1776">第十六条 行政处罚决定应当以委托机关的名</tspan><tspan x="1776" dy="16.9">义作出。</tspan></text><line class="u" x1="1767" y1="4226" x2="2042" y2="4226"/></g>
<g id="T11b1"><text class="t" x="2075" y="4182.7"><tspan x="2075">依法作出本办法第十五条第一款规定的行政处</tspan><tspan x="2075" dy="16.9">罚或者案情复杂需要集体讨论的，应当由委托</tspan><tspan x="2075" dy="16.9">机关负责人集体讨论决定。</tspan></text><line class="u" x1="2067" y1="4226" x2="2342" y2="4226"/></g>
<g id="T11c"><text class="t" x="1776" y="4275.1"><tspan x="1776">第十七条 在文化市场综合行政执法中，对违</tspan><tspan x="1776" dy="16.9">法行为的行政处罚，除依法当场处罚外，应当</tspan><tspan x="1776" dy="16.9">自立案之日起60日内作出行政处罚决定;因案</tspan><tspan x="1776" dy="16.9">情复杂等特殊情况确需延长的，应当经委托机</tspan><tspan x="1776" dy="16.9">关负责人批准，但延长期限最长不得超过30</tspan><tspan x="1776" dy="16.9">日;依法检验、鉴定所需时间不计算在上述期</tspan><tspan x="1776" dy="16.9">间内。</tspan></text><line class="u" x1="1767" y1="4386" x2="2042" y2="4386"/></g>
<g id="T11d"><text class="t" x="1776" y="4434"><tspan x="1776">第十八条 在文化市场综合行政执法中发生重</tspan><tspan x="1776" dy="16.9">大事件时，综合执法机构应当即时向委托机关</tspan><tspan x="1776" dy="16.9">报告，并于24小时内以书面形式上报事件基</tspan><tspan x="1776" dy="16.9">本情况和处理情况。依法应当向本级人民政府</tspan><tspan x="1776" dy="16.9">和上级行政主管部门报告的，按有关规定执行</tspan><tspan x="1776" dy="16.9">。</tspan></text><line class="u" x1="1767" y1="4528" x2="2042" y2="4528"/></g>
<g id="T11e"><text class="t" x="1776" y="4575"><tspan x="1776">第十九条 委托机关应当加强对综合执法机构</tspan><tspan x="1776" dy="16.9">的队伍建设、制度落实、执法活动的监督检查</tspan><tspan x="1776" dy="16.9">。上级综合执法机构应当加强对下级综合执法</tspan><tspan x="1776" dy="16.9">机构的业务指导。</tspan></text><line class="u" x1="1767" y1="4635" x2="2042" y2="4635"/></g>
<g id="T11e1"><text class="t" x="2075" y="4608.6"><tspan x="2075">综合执法机构应当定期向委托机关报告行政执</tspan><tspan x="2075" dy="16.9">法情况和文化市场秩序情况。</tspan></text><line class="u" x1="2067" y1="4635" x2="2342" y2="4635"/></g>
<g id="T11f"><text class="t" x="1776" y="4750"><tspan x="1776">第二十条 县级以上人民政府应当按照《浙江</tspan><tspan x="1776" dy="16.9">省县级以上人民政府行政执法监督条例》的规</tspan><tspan x="1776" dy="16.9">定，加强对文化市场综合行政执法的监督，及</tspan><tspan x="1776" dy="16.9">时协调、处理有关重大问题。</tspan></text><line class="u" x1="1767" y1="4810" x2="2042" y2="4810"/></g>
<g id="T11f1"><text class="t" x="2075" y="4682.7"><tspan x="2075">省文化(文物)、广播电视、新闻出版(版权)行</tspan><tspan x="2075" dy="16.9">政管理部门应当根据各自职责，加强对文化市</tspan><tspan x="2075" dy="16.9">场综合行政执法工作的指导、协调和监督。</tspan></text><line class="u" x1="2067" y1="4726" x2="2342" y2="4726"/></g>
<g id="T11f2"><text class="t" x="2075" y="4774.7"><tspan x="2075">各级公安、工商、城市管理行政执法等有关部</tspan><tspan x="2075" dy="16.9">门应当依法履行职责，并配合综合执法机构做</tspan><tspan x="2075" dy="16.9">好文化市场综合行政执法的相关工作。</tspan></text><line class="u" x1="2067" y1="4818" x2="2342" y2="4818"/></g>
<g id="T11f3"><text class="t" x="2075" y="4867.6"><tspan x="2075">乡(镇)人民政府及有关机构应当协助做好农村</tspan><tspan x="2075" dy="16.9">文化市场综合行政执法工作。</tspan></text><line class="u" x1="2067" y1="4894" x2="2342" y2="4894"/></g>
<g id="T11g"><text class="t" x="1776" y="4942"><tspan x="1776">第二十一条 委托机关对其委托的事项不履行</tspan><tspan x="1776" dy="16.9">指导、监督职责，有渎职、失职行为，造成后</tspan><tspan x="1776" dy="16.9">果的，由有权机关按照管理权限,对负有直接</tspan><tspan x="1776" dy="16.9">责任的主管人员和其他直接责任人员依法给予</tspan><tspan x="1776" dy="16.9">行政处分。</tspan></text><line class="u" x1="1767" y1="5019" x2="2042" y2="5019"/></g>
<g id="T11h"><text class="t" x="1776" y="5066"><tspan x="1776">第二十二条 综合执法机构及其执法人员有下</tspan><tspan x="1776" dy="16.9">列行为之一的，由委托机关责令改正，对负有</tspan><tspan x="1776" dy="16.9">直接责任的主管人员和其他直接责任人员依法</tspan><tspan x="1776" dy="16.9">给予处分;构成犯罪的，依法追究刑事责任：</tspan></text><line class="u" x1="1767" y1="5126" x2="2042" y2="5126"/></g>
<g id="T12"><text class="t" x="1637" y="5175.5">(一)滥用职权、执法违法的;</text><line class="u" x1="1630" y1="5185" x2="1800" y2="5185"/></g>
<g id="T13"><text class="t" x="1637" y="5233.6"><tspan x="1637">(二)执法不当，侵犯公民、法人及其他组织合</tspan><tspan x="1637" dy="16.9">法权益的;</tspan></text><line class="u" x1="1630" y1="5260" x2="1906" y2="5260"/></g>
<g id="T14"><text class="t" x="1637" y="5308.6"><tspan x="1637">(三)不严格履行法定职责，导致本地区文化市</tspan><tspan x="1637" dy="16.9">场秩序混乱或者其他严重后果的;</tspan></text><line class="u" x1="1630" y1="5335" x2="1906" y2="5335"/></g>
<g id="T15"><text class="t" x="1637" y="5383.5">(四)违法参与文化市场经营活动的;</text><line class="u" x1="1630" y1="5393" x2="1840" y2="5393"/></g>
<g id="T16"><text class="t" x="1637" y="5442.7"><tspan x="1637">(五)利用职权或者工作之便索取、收受他人财</tspan><tspan x="1637" dy="16.9">物，或者支持、纵容、包庇文化市场违法经营</tspan><tspan x="1637" dy="16.9">活动的;</tspan></text><line class="u" x1="1630" y1="5486" x2="1906" y2="5486"/></g>
<g id="T17"><text class="t" x="1637" y="5532.7"><tspan x="1637">(六)对投诉、举报不受理、不处理，拖延推诿</tspan><tspan x="1637" dy="16.9">，或者泄露投诉、举报人情况和执法活动安排</tspan><tspan x="1637" dy="16.9">的;</tspan></text><line class="u" x1="1630" y1="5576" x2="1906" y2="5576"/></g>
<g id="T18"><text class="t" x="1637" y="5624.5">(七)伪造、篡改、隐匿和销毁证据的;</text><line class="u" x1="1630" y1="5634" x2="1852" y2="5634"/></g>
<g id="T19"><text class="t" x="1637" y="5682.6"><tspan x="1637">(八)侵占、挪用罚没财物或者侵占、使用、损</tspan><tspan x="1637" dy="16.9">毁被暂扣、封存、先行登记保存的财物的;</tspan></text><line class="u" x1="1630" y1="5709" x2="1906" y2="5709"/></g>
<g id="T20"><text class="t" x="1637" y="5758.5">(九)其他违反法律、法规、规章规定的行为。</text><line class="u" x1="1630" y1="5768" x2="1902" y2="5768"/></g>
<g id="T20a"><text class="t" x="1935" y="5758.5">第二十三条 本办法自1月1日起施行。</text><line class="u" x1="1927" y1="5768" x2="2154" y2="5768"/></g>
</g>
</svg>
